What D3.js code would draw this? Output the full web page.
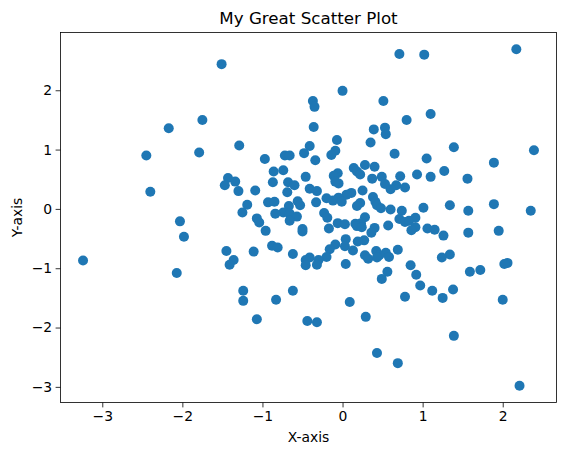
<!DOCTYPE html>
<html><head><meta charset="utf-8">
<script src="https://cdn.jsdelivr.net/npm/d3@7"></script>
<style>body{margin:0;background:#fff}svg{display:block}text{font-family:"DejaVu Sans",sans-serif;fill:#000}</style>
</head><body><svg id="c" width="565" height="455"></svg>
<script>
const title = "My Great Scatter Plot";
const xLabel = "X-axis";
const yLabel = "Y-axis";
const xTicks = [-3, -2, -1, 0, 1, 2];
const yTicks = [-3, -2, -1, 0, 1, 2];
const xs = [2.17,0.71,1.02,-1.51,0.00,-0.37,0.51,-0.35,1.10,-1.75,0.80,-2.17,-0.36,0.39,0.53,0.54,-0.07,0.35,-1.29,-0.41,1.39,2.39,-1.79,-0.09,-0.14,-0.48,-2.45,-0.72,-0.66,0.65,-0.97,-0.34,1.05,1.89,0.28,0.40,0.14,-0.74,-0.86,0.18,1.27,0.22,-0.06,-0.11,0.93,-0.46,0.72,0.49,0.37,-1.43,1.10,1.56,-1.34,-0.87,-0.68,-0.05,-0.09,0.53,-1.47,-0.60,0.67,0.78,-0.41,0.60,-1.30,-1.09,-0.32,0.25,-2.40,-0.69,0.11,0.05,0.38,-0.20,-0.05,-0.12,-0.01,0.41,-0.93,-0.85,-0.56,-0.33,0.22,0.43,-1.19,-0.53,-0.67,1.89,1.34,0.18,1.01,0.48,0.60,0.74,1.57,2.35,-1.25,-0.74,-0.23,0.28,-0.84,-0.66,-0.19,-0.57,-1.07,0.91,-0.66,-1.04,0.71,0.78,0.83,-0.06,0.03,0.16,0.23,0.18,0.24,0.57,0.91,0.86,-0.17,-0.50,-0.50,-0.96,0.40,0.36,1.06,1.15,1.57,1.95,1.26,0.04,0.27,0.19,-0.09,0.03,-0.88,-0.81,-1.45,-1.11,-0.16,0.13,0.69,0.42,0.54,0.46,1.34,-0.62,0.28,0.32,0.58,0.43,-0.20,-0.41,-0.30,1.24,-1.36,-3.24,-0.46,2.06,2.02,-1.41,-0.46,-0.32,0.04,0.85,1.72,1.59,0.56,-2.07,0.92,0.49,0.97,1.12,1.38,-1.24,-0.62,0.78,1.25,2.00,-1.24,-0.83,0.09,0.29,-1.07,-0.44,-0.32,1.39,0.43,0.69,2.21,-2.03,-1.98];
const ys = [2.69,2.61,2.60,2.44,1.99,1.82,1.82,1.72,1.60,1.50,1.50,1.36,1.38,1.34,1.37,1.26,1.16,1.12,1.07,1.06,1.04,0.99,0.95,0.98,0.91,0.94,0.90,0.90,0.90,0.93,0.84,0.82,0.85,0.78,0.74,0.71,0.69,0.65,0.63,0.63,0.64,0.58,0.60,0.56,0.58,0.54,0.55,0.54,0.51,0.52,0.54,0.51,0.46,0.45,0.45,0.43,0.46,0.42,0.40,0.40,0.40,0.36,0.34,0.33,0.30,0.31,0.30,0.31,0.29,0.28,0.27,0.24,0.20,0.18,0.19,0.14,0.12,0.12,0.11,0.12,0.13,0.11,0.10,0.06,0.07,0.06,0.05,0.08,0.06,0.05,0.02,0.01,-0.01,-0.03,-0.03,-0.03,-0.06,-0.06,-0.07,-0.14,-0.08,-0.08,-0.15,-0.13,-0.16,-0.15,-0.20,-0.23,-0.17,-0.22,-0.20,-0.24,-0.26,-0.25,-0.24,-0.29,-0.31,-0.28,-0.31,-0.36,-0.33,-0.34,-0.38,-0.37,-0.32,-0.40,-0.33,-0.35,-0.40,-0.37,-0.45,-0.51,-0.53,-0.55,-0.60,-0.63,-0.62,-0.65,-0.71,-0.72,-0.68,-0.70,-0.69,-0.71,-0.74,-0.78,-0.77,-0.76,-0.78,-0.84,-0.81,-0.82,-0.81,-0.82,-0.86,-0.82,-0.86,-0.87,-0.86,-0.91,-0.93,-0.94,-0.95,-0.94,-0.93,-0.95,-1.03,-1.06,-1.06,-1.08,-1.11,-1.18,-1.29,-1.38,-1.36,-1.38,-1.38,-1.48,-1.50,-1.53,-1.55,-1.53,-1.57,-1.82,-1.86,-1.89,-1.91,-2.14,-2.43,-2.60,-2.98,-0.21,-0.47];

const L = 60.5, T = 32.5, W = 496, H = 370;
const svg = d3.select("#c");
const pad = (ext) => { const r = ext[1]-ext[0]; return [ext[0]-0.05*r, ext[1]+0.05*r]; };
const x = d3.scaleLinear().domain(pad(d3.extent(xs))).range([L, L+W]);
const y = d3.scaleLinear().domain(pad(d3.extent(ys))).range([T+H, T]);
const fmt = d => (d < 0 ? "\u2212" + Math.abs(d) : "" + d);

const pts = xs.map((v,i)=>[v, ys[i]]);
svg.append("g").selectAll("circle").data(pts).join("circle")
  .attr("cx", d=>x(d[0])).attr("cy", d=>y(d[1])).attr("r", 5)
  .attr("fill", "#1f77b4");

const xa = svg.append("g").attr("transform", `translate(0,${T+H})`)
  .call(d3.axisBottom(x).tickValues(xTicks).tickFormat(fmt).tickSize(4.9).tickPadding(3.5).tickSizeOuter(0));
const ya = svg.append("g").attr("transform", `translate(${L},0)`)
  .call(d3.axisLeft(y).tickValues(yTicks).tickFormat(fmt).tickSize(4.9).tickPadding(3.5).tickSizeOuter(0));
[xa, ya].forEach(a => {
  a.select(".domain").remove();
  a.selectAll("line").attr("stroke", "#000").attr("stroke-width", 0.8);
  a.selectAll("text").attr("font-size", "13.9px").attr("font-family", "DejaVu Sans").attr("fill", "#000");
});
svg.append("rect").attr("x", L).attr("y", T).attr("width", W).attr("height", H)
  .attr("fill", "none").attr("stroke", "#000").attr("stroke-width", 0.8);

svg.append("text").attr("x", L+W/2).attr("y", T-8.3).attr("text-anchor", "middle")
  .attr("font-size", "16.7px").text(title);
svg.append("text").attr("x", L+W/2).attr("y", 442).attr("text-anchor", "middle")
  .attr("font-size", "13.9px").text(xLabel);
svg.append("text").attr("transform", `translate(22,${T+H/2}) rotate(-90)`).attr("text-anchor", "middle")
  .attr("font-size", "13.9px").text(yLabel);
</script></body></html>
